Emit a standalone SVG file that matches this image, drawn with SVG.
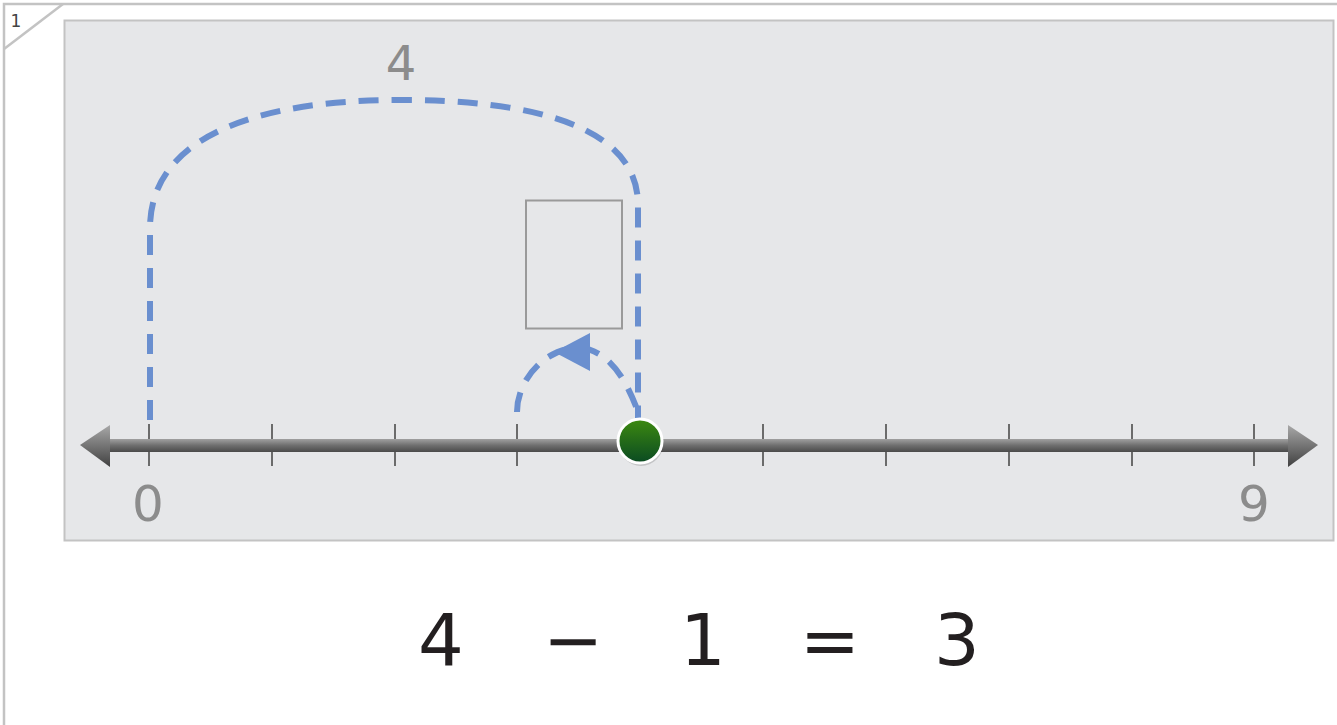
<svg xmlns="http://www.w3.org/2000/svg" width="1337" height="725" viewBox="0 0 1337 725">
<defs>
<style>
.lbl{font-family:"DejaVu Sans","Liberation Sans",sans-serif;fill:#8c8c8c;text-anchor:middle}
.eq{font-family:"DejaVu Sans","Liberation Sans",sans-serif;fill:#231f20;text-anchor:middle;font-size:72px}
.dash{fill:none;stroke:#6a8fcf;stroke-width:6;stroke-dasharray:20 13}
.tick{stroke:#6b6b6b;stroke-width:2}
</style>
<linearGradient id="lg" x1="0" y1="0" x2="0" y2="1">
<stop offset="0" stop-color="#a0a0a0"/><stop offset="0.5" stop-color="#6e6e6e"/><stop offset="1" stop-color="#4a4a4a"/>
</linearGradient>
<linearGradient id="ag" x1="0" y1="0" x2="0" y2="1">
<stop offset="0" stop-color="#a8a8a8"/><stop offset="1" stop-color="#404040"/>
</linearGradient>
<linearGradient id="gg" x1="0" y1="0" x2="0" y2="1">
<stop offset="0" stop-color="#3d8a10"/><stop offset="1" stop-color="#0a4a22"/>
</linearGradient>
</defs>
<rect x="0" y="0" width="1337" height="725" fill="#ffffff"/>
<g id="frame">
<rect x="4" y="4" width="1340" height="730" fill="none" stroke="#c3c3c3" stroke-width="2.5"/>
<line x1="4" y1="49" x2="63" y2="4" stroke="#c3c3c3" stroke-width="2.5"/>
<text x="16" y="27" font-family="DejaVu Sans, sans-serif" font-size="17" fill="#444" text-anchor="middle">1</text>
</g>
<g id="panel">
<rect x="64.5" y="20.5" width="1269" height="520" fill="#e6e7e9" stroke="#c3c3c3" stroke-width="2"/>
</g>
<g id="numberline">
<g class="tick">
<line x1="149" y1="424" x2="149" y2="466"/>
<line x1="272" y1="424" x2="272" y2="466"/>
<line x1="395" y1="424" x2="395" y2="466"/>
<line x1="517" y1="424" x2="517" y2="466"/>
<line x1="763" y1="424" x2="763" y2="466"/>
<line x1="886" y1="424" x2="886" y2="466"/>
<line x1="1009" y1="424" x2="1009" y2="466"/>
<line x1="1132" y1="424" x2="1132" y2="466"/>
<line x1="1254" y1="424" x2="1254" y2="466"/>
</g>
<rect x="105" y="439" width="1188" height="13" fill="url(#lg)"/>
<polygon points="80,445 110,425 110,467" fill="url(#ag)"/>
<polygon points="1318,445 1288,425 1288,467" fill="url(#ag)"/>
<text class="lbl" x="148" y="521" font-size="50">0</text>
<text class="lbl" x="1254" y="521" font-size="50">9</text>
</g>
<g id="connectors">
<path class="dash" d="M150,420 L150,228 C150,140 250,100 400,100 C530,100 638,125 638,205 L638,420"/>
<path class="dash" d="M517,412 C517,380 545,348 578,348 C605,348 625,375 638,412"/>
<polygon points="554,352 590,333 590,371" fill="#6a8fcf"/>
</g>
<g id="label-top">
<text class="lbl" x="401" y="80" font-size="48">4</text>
</g>
<g id="answer-box">
<rect x="526" y="200.5" width="96" height="128" fill="none" stroke="#9a9a9a" stroke-width="2"/>
</g>
<g id="dot">
<circle cx="641" cy="444" r="22" fill="#000" opacity="0.15"/>
<circle cx="640" cy="441" r="22" fill="url(#gg)" stroke="#ffffff" stroke-width="3"/>
</g>
<g id="equation">
<text class="eq" x="441" y="665">4</text>
<text class="eq" x="573" y="665">−</text>
<text class="eq" x="703" y="665">1</text>
<text class="eq" x="830" y="665">=</text>
<text class="eq" x="957" y="665">3</text>
</g>
</svg>
